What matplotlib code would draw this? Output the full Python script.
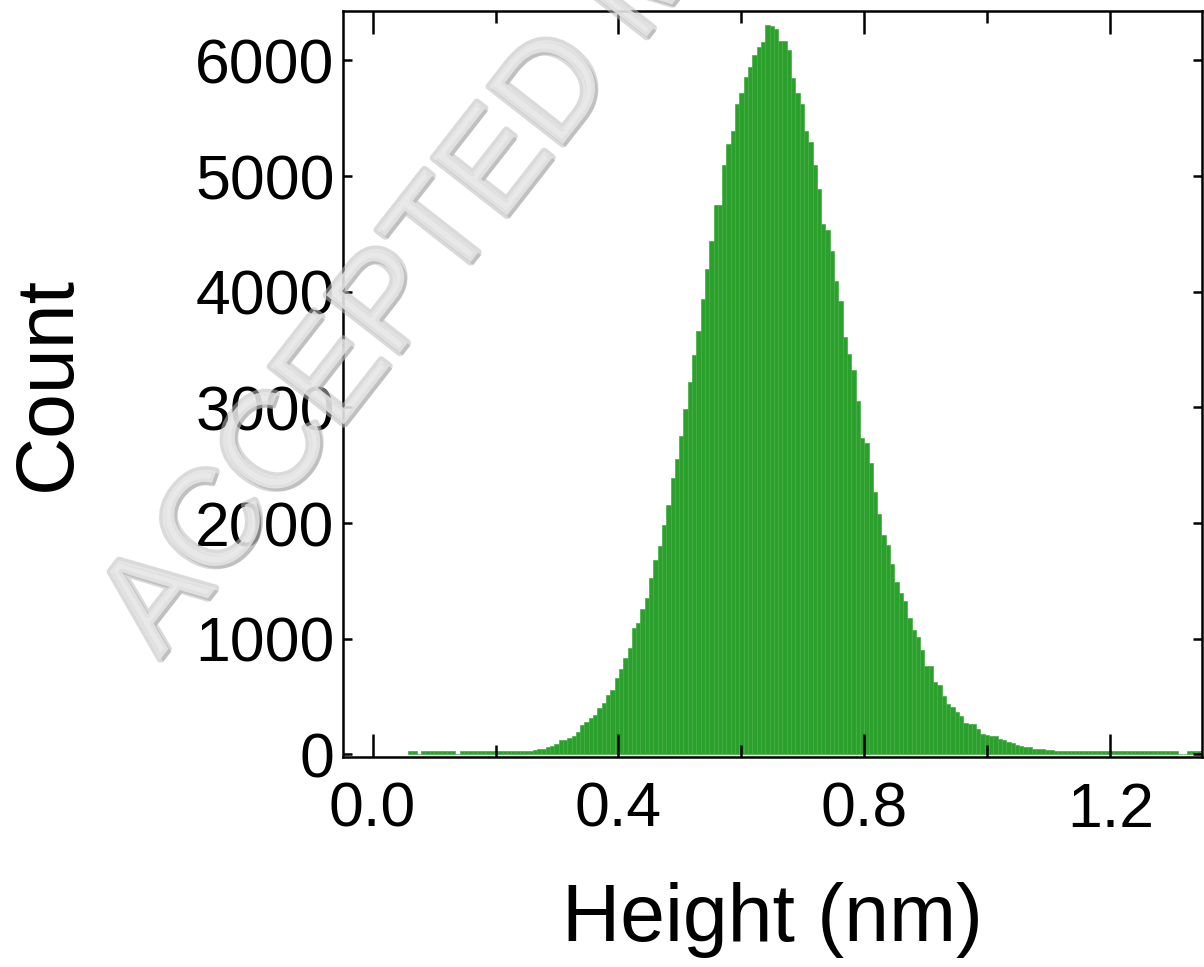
import numpy as np
import matplotlib
matplotlib.use("Agg")
from matplotlib import pyplot as plt
from matplotlib import patheffects as pe
from matplotlib.ticker import MultipleLocator

GREEN = "#2ca02c"

plt.rcParams.update({'font.family': ['Liberation Sans', 'DejaVu Sans'],
                     'axes.linewidth': 1.8,
                     'xtick.direction': 'in',
                     'ytick.direction': 'in',
                     'xtick.top': True,
                     'ytick.right': True,
                     })

# histogram of heights: bin start / width (nm) and counts
bin_start = 0.0577
bin_width = 0.007
counts = [28, 28, 0, 28, 28, 28, 28, 28, 28, 28, 28, 0,
          28, 28, 28, 28, 28, 28, 28, 28, 28, 28, 28, 28, 28, 28, 28, 28, 28,
          36, 45, 45, 62, 77, 88, 121, 125, 138, 160, 192,
          258, 278, 319, 345, 399, 445, 514, 553, 661, 738,
          833, 923, 1092, 1136, 1256, 1351, 1524, 1683, 1798, 1985,
          2158, 2388, 2555, 2756, 2987, 3217, 3453, 3661, 3934, 4196,
          4438, 4749, 4749, 5097, 5281, 5388, 5624, 5718, 5857, 5943,
          6044, 6113, 6163, 6308, 6297, 6274, 6168, 6168, 6087, 5851,
          5718, 5624, 5386, 5295, 5097, 4887, 4585, 4533, 4354, 4092,
          3920, 3611, 3462, 3324, 3056, 2733, 2690, 2523, 2273, 2080,
          1899, 1813, 1649, 1490, 1395, 1323, 1179, 1073, 1012, 900,
          762, 762, 626, 604, 509, 440, 408, 364, 330, 272,
          263, 263, 220, 180, 170, 161, 157, 131, 123, 108,
          99, 85, 71, 65, 65, 47, 47, 47, 39, 39,
          28, 28, 28, 28, 28, 28, 28, 28, 28, 28, 28, 28, 28, 28, 28,
          28, 28, 28, 28, 28, 28, 28, 28, 28, 28, 28, 28, 28, 28,
          0, 0, 28, 28, 28, 28, 28]

edges = bin_start + bin_width * np.arange(len(counts))

fig = plt.figure(figsize=(12.04, 9.67), dpi=100)
ax = fig.add_axes([0.2849, 0.2172, 0.7134, 0.7714])

ax.bar(edges, counts, width=bin_width, align='edge', color=GREEN,
       edgecolor="#44ad44", linewidth=0.5)

ax.set_xlim(-0.048, 1.349)
ax.set_ylim(-22, 6427)
ax.xaxis.set_major_locator(MultipleLocator(0.4))
ax.xaxis.set_minor_locator(MultipleLocator(0.2))
ax.yaxis.set_major_locator(MultipleLocator(1000))
ax.xaxis.set_major_formatter(lambda v, p: f"{v:.1f}")

ax.tick_params(axis='x', which='major', length=16.5, width=1.8, labelsize=45, pad=17)
ax.tick_params(axis='x', which='minor', length=8.5, width=1.8)
ax.tick_params(axis='y', which='major', length=6.5, width=1.8, labelsize=45, pad=6)

ax.set_xlabel("Height (nm)", fontsize=58)
ax.set_ylabel("Count", fontsize=58)
ax.xaxis.set_label_coords(0.5, -0.168)
ax.yaxis.set_label_coords(-0.298, 0.5)

# journal watermark, semi-transparent over the axes
fig.text(0.133, 0.318, "ACCEPTED MANUSCRIPT", rotation=52, rotation_mode='anchor',
         fontsize=98, color="#f2f2f2", alpha=0.55, zorder=10,
         path_effects=[pe.SimplePatchShadow(offset=(2, -2), shadow_rgbFace="#8a8a8a", alpha=0.5),
                       pe.Stroke(linewidth=5, foreground="#bdbdbd"), pe.Normal()])

fig.savefig("out.png", dpi=100)
